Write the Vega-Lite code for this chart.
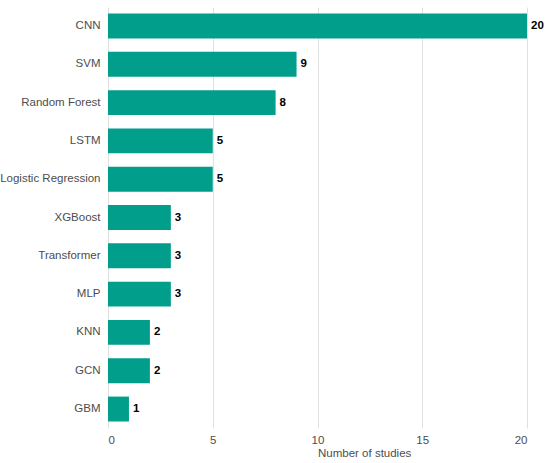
{
  "$schema": "https://vega.github.io/schema/vega-lite/v6.json",
  "autosize": "none",
  "padding": {"left": 108, "top": 7, "right": 23, "bottom": 35},
  "width": 419,
  "height": 421,
  "background": "white",
  "data": {"values": [
    {"model": "CNN", "n": 20},
    {"model": "SVM", "n": 9},
    {"model": "Random Forest", "n": 8},
    {"model": "LSTM", "n": 5},
    {"model": "Logistic Regression", "n": 5},
    {"model": "XGBoost", "n": 3},
    {"model": "Transformer", "n": 3},
    {"model": "MLP", "n": 3},
    {"model": "KNN", "n": 2},
    {"model": "GCN", "n": 2},
    {"model": "GBM", "n": 1}
  ]},
  "config": {
    "view": {"stroke": null},
    "font": "Liberation Sans"
  },
  "encoding": {
    "y": {"field": "model", "type": "nominal", "sort": null,
      "scale": {"paddingInner": 0.35, "paddingOuter": 0.17},
      "axis": {"title": null, "domain": false, "ticks": false, "labelPadding": 8,
        "labelFontSize": 11.5, "labelColor": "#4d4d4d", "grid": false}},
    "x": {"field": "n", "type": "quantitative",
      "scale": {"domain": [0, 20], "nice": false},
      "axis": {"title": "Number of studies", "values": [0, 5, 10, 15, 20],
        "domain": false, "ticks": false, "labelPadding": 6,
        "labelFontSize": 11.5, "labelColor": "#4d4d4d",
        "titleFontSize": 11.5, "titleColor": "#4d4d4d", "titleFontWeight": "normal",
        "titleAlign": "left", "titlePadding": 2,
        "grid": true, "gridColor": "#e0e0e0", "gridWidth": 1}}
  },
  "layer": [
    {"mark": {"type": "bar", "color": "#009E8B"}},
    {"mark": {"type": "text", "align": "left", "dx": 4, "fontWeight": "bold", "fontSize": 11.5, "color": "black"},
     "encoding": {"text": {"field": "n", "type": "quantitative"}}}
  ]
}
